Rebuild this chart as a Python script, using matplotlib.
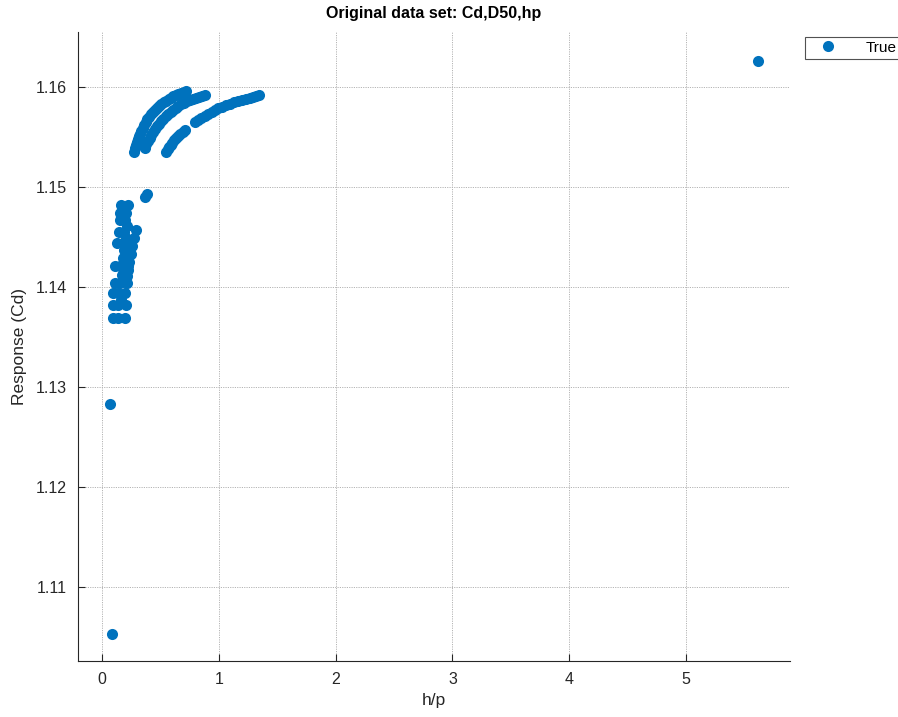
import matplotlib
matplotlib.use("Agg")
import matplotlib.pyplot as plt

plt.rcParams['font.family'] = ['Liberation Sans', 'DejaVu Sans']

# h/p values and responses (Cd)
hp_cluster = [0.094, 0.137, 0.197,
              0.094, 0.137,
              0.094, 0.137, 0.197,
              0.111, 0.154, 0.214,
              0.111, 0.154, 0.223,
              0.128, 0.180,
              0.146, 0.188,
              0.154, 0.197,
              0.154, 0.205,
              0.163, 0.223,
              0.163, 0.171, 0.180, 0.188, 0.205, 0.214,
              0.205, 0.214, 0.223, 0.231, 0.248, 0.257, 0.274, 0.291]
cd_cluster = [1.1369, 1.1369, 1.1369,
              1.1382, 1.1382,
              1.1394, 1.1394, 1.1394,
              1.1404, 1.1404, 1.1404,
              1.1421, 1.1421, 1.1421,
              1.1444, 1.1444,
              1.1455, 1.1455,
              1.1467, 1.1467,
              1.1474, 1.1474,
              1.1482, 1.1482,
              1.1387, 1.1412, 1.1429, 1.1437, 1.1449, 1.1461,
              1.1382, 1.1411, 1.1417, 1.1425, 1.1433, 1.1441, 1.1449, 1.1457]

hp_arc_a = [0.274, 0.282, 0.291, 0.299, 0.308, 0.316, 0.325, 0.338, 0.351,
            0.364, 0.377, 0.389, 0.402, 0.420, 0.437, 0.454, 0.471, 0.488,
            0.505, 0.527, 0.548, 0.570, 0.591, 0.612, 0.634, 0.655, 0.676,
            0.698, 0.719]
cd_arc_a = [1.1535, 1.1539, 1.1542, 1.1545, 1.1548, 1.1551, 1.1553, 1.1556,
            1.1559, 1.1562, 1.1565, 1.1568, 1.1570, 1.1573, 1.1575, 1.1577,
            1.1579, 1.1581, 1.1583, 1.1585, 1.1586, 1.1588, 1.1589, 1.1591,
            1.1592, 1.1593, 1.1594, 1.1595, 1.1596]

hp_arc_b = [0.368, 0.381, 0.394, 0.407, 0.420, 0.437, 0.454, 0.471, 0.488,
            0.505, 0.522, 0.544, 0.565, 0.587, 0.608, 0.630, 0.651, 0.677,
            0.702, 0.728, 0.753, 0.779, 0.805, 0.831, 0.856, 0.882]
cd_arc_b = [1.1539, 1.1543, 1.1546, 1.1549, 1.1552, 1.1555, 1.1558, 1.1561,
            1.1563, 1.1566, 1.1568, 1.1571, 1.1573, 1.1575, 1.1577, 1.1579,
            1.1581, 1.1583, 1.1584, 1.1586, 1.1587, 1.1588, 1.1589, 1.1590,
            1.1591, 1.1592]

hp_arc_c = [0.548, 0.561, 0.574, 0.587, 0.599, 0.617, 0.634, 0.651, 0.668,
            0.690, 0.711]
cd_arc_c = [1.1535, 1.1538, 1.1540, 1.1542, 1.1544, 1.1547, 1.1549, 1.1551,
            1.1553, 1.1555, 1.1557]

hp_arc_d = [0.796, 0.822, 0.848, 0.878, 0.908, 0.938, 0.967, 0.997, 1.027,
            1.062, 1.096, 1.130, 1.164, 1.199, 1.233, 1.263, 1.293, 1.319,
            1.344]
cd_arc_d = [1.1565, 1.1567, 1.1569, 1.1571, 1.1573, 1.1575, 1.1577, 1.1579,
            1.1580, 1.1582, 1.1583, 1.1585, 1.1586, 1.1587, 1.1588, 1.1589,
            1.1590, 1.1591, 1.1592]

hp_single = [0.368, 0.385, 0.068, 0.086, 5.617]
cd_single = [1.1490, 1.1493, 1.1283, 1.1053, 1.1626]

hp = hp_cluster + hp_arc_a + hp_arc_b + hp_arc_c + hp_arc_d + hp_single
cd = cd_cluster + cd_arc_a + cd_arc_b + cd_arc_c + cd_arc_d + cd_single

xticks = [0, 1, 2, 3, 4, 5]
yticks = [1.11, 1.12, 1.13, 1.14, 1.15, 1.16]

fig = plt.figure(figsize=(8.98, 7.17), dpi=100)
ax = fig.add_axes([0.0869, 0.0781, 0.7928, 0.8773])

blue = '#0072BD'
ax.plot(hp, cd, 'o', color=blue, markersize=8, markeredgewidth=0, label='True')

ax.set_xlim(-0.205, 5.89)
ax.set_ylim(1.1026, 1.1655)
ax.set_xticks(xticks)
ax.set_yticks(yticks)
ax.set_xticklabels([str(t) for t in xticks])
ax.set_yticklabels([f'{t:.2f}' for t in yticks])

ax.grid(True, linestyle=(0, (1.2, 1.2)), color='#b4b4b4', linewidth=0.7)
ax.set_axisbelow(True)
for s in ['top', 'right']:
    ax.spines[s].set_visible(False)
for s in ['left', 'bottom']:
    ax.spines[s].set_color('#262626')
    ax.spines[s].set_linewidth(0.8)
ax.tick_params(direction='in', length=5, width=0.8, colors='#262626',
               labelsize=11.5, pad=8)

ax.set_xlabel('h/p', fontsize=12.5, color='#262626', labelpad=4)
ax.set_ylabel('Response (Cd)', fontsize=12.5, color='#262626', labelpad=6)
ax.set_title('Original data set: Cd,D50,hp', fontsize=11.5, fontweight='bold',
             color='black', pad=10)

leg = fig.legend(loc='upper left', bbox_to_anchor=(805 / 898, 1 - 37 / 717),
                 fontsize=11, frameon=True, fancybox=False, borderpad=0.25,
                 handlelength=2.5, handletextpad=1.2, borderaxespad=0)
leg.get_frame().set_edgecolor('#262626')
leg.get_frame().set_linewidth(0.8)

fig.savefig('out.png', dpi=100)
